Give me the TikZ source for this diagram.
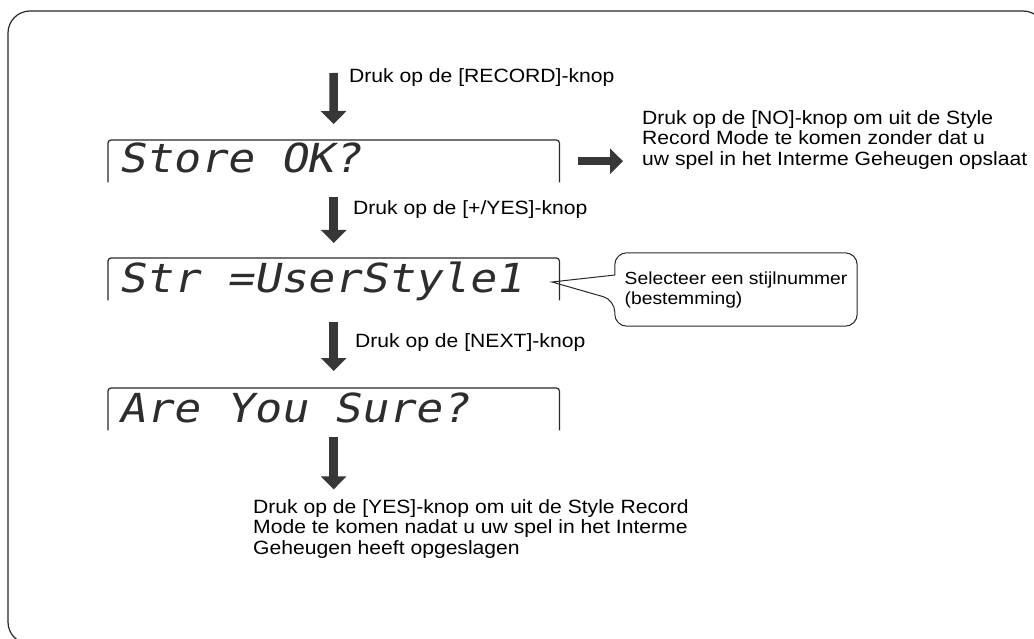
\documentclass[tikz,border=0pt]{standalone}
\usepackage{fontspec}
\setmainfont{Liberation Sans}
\newfontfamily\notefont[FakeStretch=1.1]{Liberation Sans}
\newfontfamily\lcdfont[FakeSlant=0.2,FakeStretch=1.12]{DejaVu Sans Mono}
\usepackage{tikz}
\usetikzlibrary{arrows.meta,positioning}
\usepackage{xcolor}
\definecolor{arrowgray}{RGB}{55,55,55}
\definecolor{linegray}{RGB}{40,40,40}
\definecolor{lcdink}{RGB}{45,45,45}

\begin{document}
\begin{tikzpicture}[x=1pt,y=-1pt,
    lcdarea/.style={minimum width=451pt,minimum height=42pt,inner sep=0pt,anchor=north west},
    lcdframe/.style={draw=linegray,line width=1.2pt,rounded corners=3pt},
    lcdtext/.style={font=\lcdfont\fontsize{40}{40}\selectfont,text=lcdink,inner sep=0pt,anchor=base west},
    blockarrow/.style={arrowgray,line width=8.5pt,-{Triangle[width=25pt,length=13pt]}},
    note/.style={font=\notefont\fontsize{19.2}{20.5}\selectfont,align=left,inner sep=0pt,anchor=west},
    callout/.style={minimum width=242pt,minimum height=73pt,inner sep=0pt,
      align=left,font=\notefont\fontsize{17.5}{20}\selectfont}]
    \useasboundingbox (0,0) rectangle (1034,639);
    \clip (0,0) rectangle (1034,639);
    \draw[linegray,line width=1.2pt,rounded corners=22pt] (8,11) rectangle (1045,644);

    % LCD screens
    \node[lcdarea] (store) at (108,140) {};
    \node[lcdarea] (str) at (108,258) {};
    \node[lcdarea] (sure) at (108,388) {};
    \foreach \b in {store,str,sure}
      \draw[lcdframe] (\b.south west) |- (\b.north east) -- (\b.south east);
    \node[lcdtext] (storetxt) at ([xshift=10pt,yshift=-33pt]store.north west) {Store OK?};
    \node[lcdtext] (strtxt) at ([xshift=10pt,yshift=-34pt]str.north west) {Str =UserStyle1};
    \node[lcdtext] (suretxt) at ([xshift=10pt,yshift=-34pt]sure.north west) {Are You Sure?};

    % Steps
    \coordinate (begin) at (333.5,73);
    \node[note] (recordlbl) at (349,78) {Druk op de [RECORD]-knop};
    \node[note] (yeslbl) at (353,210) {Druk op de [+/YES]-knop};
    \node[note] (nextlbl) at (355,343) {Druk op de [NEXT]-knop};
    \node[note] (yesnote) at (253,529) {Druk op de [YES]-knop om uit de Style Record\\
      Mode te komen nadat u uw spel in het Interme\\Geheugen heeft opgeslagen};
    \node[note] (nonote) at (642,140) {Druk op de [NO]-knop om uit de Style\\
      Record Mode te komen zonder dat u\\uw spel in het Interme Geheugen opslaat};

    \draw[blockarrow,shorten >=16pt] (begin) -- (store.north);
    \draw[blockarrow,shorten <=15pt,shorten >=15pt] (store.south) -- (str.north);
    \draw[blockarrow,shorten <=22pt,shorten >=17pt] (str.south) -- (sure.north);
    \draw[blockarrow,shorten <=7pt,shorten >=10pt] (sure.south) -- (sure.south |- yesnote.north);
    \draw[blockarrow,shorten <=19pt,shorten >=19pt] (store.east) -- (store.east -| nonote.west);

    % Callout
    \node[callout] (choose) at (736,289.5) {Selecteer een stijlnummer\\(bestemming)};
    \coordinate (tip) at (552,282);
    \draw[linegray,line width=1pt] ([yshift=14.5pt]choose.west) [rounded corners=12pt]
      -- (choose.north west) -- (choose.north east) -- (choose.south east)
      -- (choose.south west) -- ([yshift=-10.5pt]choose.west) [sharp corners] -- (tip) -- cycle;
  \end{tikzpicture}
\end{document}
